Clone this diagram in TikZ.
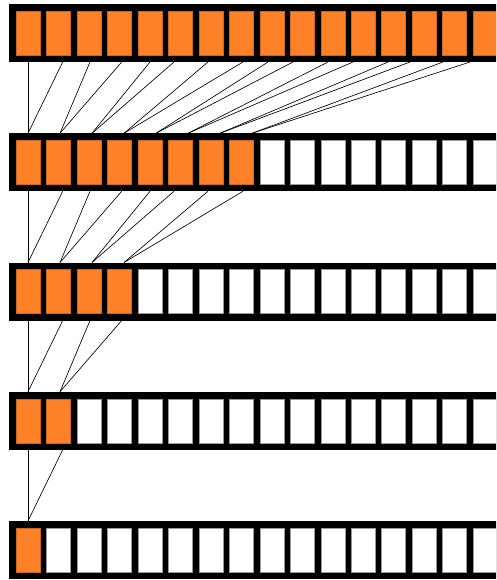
\documentclass[tikz,border=0pt]{standalone}
\definecolor{cellorange}{RGB}{255,129,39}
\begin{document}
\begin{tikzpicture}[x=1pt,y=-1pt,
  bar/.style={fill=black,draw=none,minimum width=500pt,minimum height=58pt,inner sep=0pt,outer sep=0pt,anchor=north west},
  cellbase/.style={line width=0.35pt,minimum width=24pt,minimum height=44pt,inner sep=0pt,outer sep=0pt,anchor=north west},
  cellon/.style={cellbase,fill=cellorange,draw=cellorange!80!black},
  celloff/.style={cellbase,fill=white,draw=black!40},
  link/.style={line width=0.65pt,black}]
\path[use as bounding box] (0,0) rectangle (496,580);
\clip (0,0) rectangle (496,580);
\foreach \k/\n in {0/16,1/8,2/4,3/2,4/1} {
  \pgfmathsetmacro\rowtop{4+129.25*\k}
  \node[bar] (bar-\k) at (8.5,\rowtop) {};
  \foreach \i in {0,...,15} {
    \pgfmathsetmacro\xx{16+30.47*\i}
    \pgfmathsetmacro\yy{\rowtop+7}
    \ifnum\i<\n\relax\def\cst{cellon}\else\def\cst{celloff}\fi
    \node[\cst] (cell-\k-\i) at (\xx,\yy) {};
  }
}
% start points on the bottom edge of rows 0..3
\foreach \k in {0,1,2,3} {
  \pgfmathsetmacro\rowbot{4+129.25*\k+58}
  \foreach \i/\sx in {0/28,1/62.7,2/90,3/121.7,4/150,5/174,6/208,7/243,8/268,9/293,10/328,11/353,12/388,13/410,14/443,15/470} {
    \coordinate (s-\k-\i) at (\sx,\rowbot);
  }
}
% end points on the top edge of rows 1..4
\foreach \k in {1,2,3,4} {
  \pgfmathsetmacro\rowtop{4+129.25*\k}
  \foreach \j in {0,...,7} {
    \pgfmathsetmacro\ex{28+32*\j}
    \coordinate (e-\k-\j) at (\ex,\rowtop);
  }
}
% links
\foreach \k/\m in {0/7,1/3,2/1,3/0} {
  \pgfmathtruncatemacro\kn{\k+1}
  \foreach \j in {0,...,\m} {
    \pgfmathtruncatemacro\a{2*\j}
    \pgfmathtruncatemacro\b{2*\j+1}
    \draw[link] (s-\k-\a) -- (e-\kn-\j);
    \draw[link] (s-\k-\b) -- (e-\kn-\j);
  }
}
\end{tikzpicture}
\end{document}
